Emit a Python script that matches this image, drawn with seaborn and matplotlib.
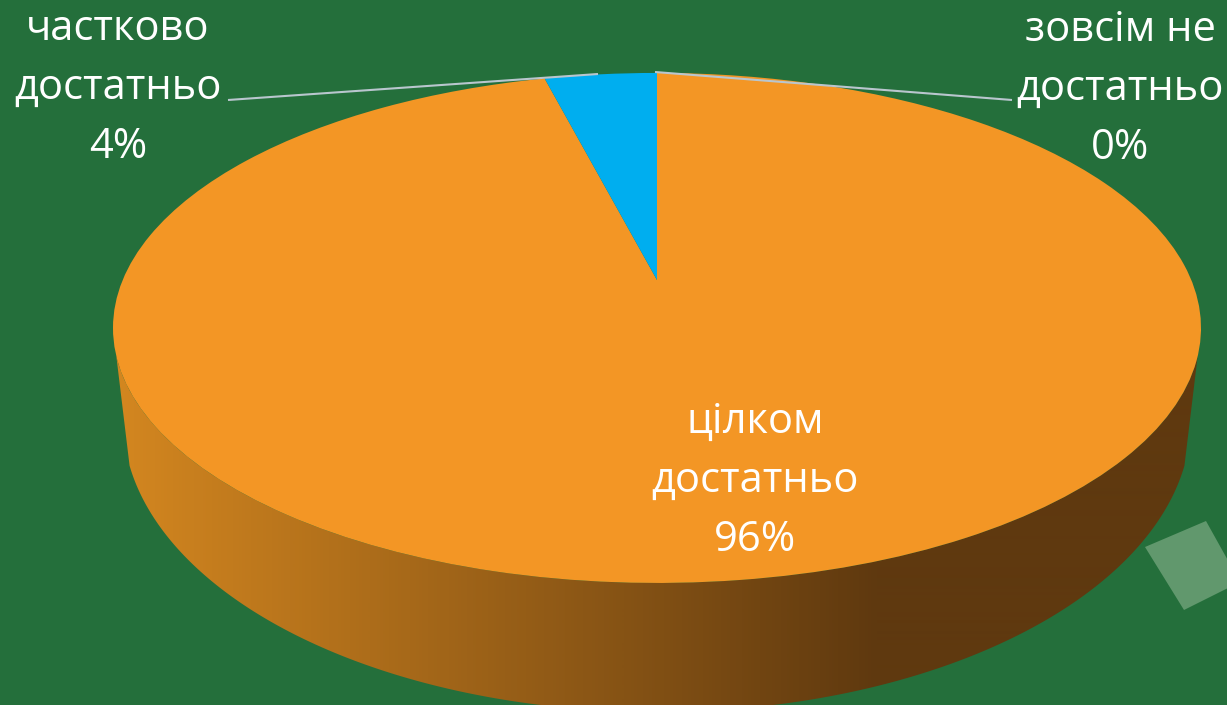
import numpy as np
import seaborn as sns
import matplotlib
matplotlib.use("Agg")
import matplotlib.pyplot as plt
from matplotlib.path import Path
from matplotlib.patches import PathPatch, Polygon
from matplotlib.transforms import Transform

# --- data ---
categories = ["цілком\nдостатньо", "частково\nдостатньо", "зовсім не\nдостатньо"]
shares = [96, 4, 0]
slice_colors = ["#F39625", "#00AEEF", "#A5A5A5"]

# --- style ---
BG = "#246F3B"
sns.set_theme(style="white")
plt.rcParams["font.family"] = ["Open Sans", "DejaVu Sans"]

# perspective of the pie disc, in pixels
CX, APEX_Y, A, B, K = 657.0, 280.0, 534.3, 246.0, 0.188


class Perspective(Transform):
    input_dims = output_dims = 2

    def transform_non_affine(self, xy):
        xy = np.asarray(xy, dtype=float)
        w = 1 + K * xy[:, 1]
        return np.column_stack([CX + A * xy[:, 0] / w, APEX_Y - B * xy[:, 1] / w])


proj = Perspective()
fig = plt.figure(figsize=(12.27, 7.05), dpi=100, facecolor=BG)
ax = fig.add_axes([0, 0, 1, 1])

wedges, _ = ax.pie(shares, colors=slice_colors, startangle=90, counterclock=False,
                   radius=1.0, wedgeprops=dict(linewidth=0), normalize=True)
for w in wedges:
    w.set_transform(proj + ax.transData)
    w.set_zorder(4)

# side wall: front half of the disc rim, then the lower edge back from right to left
th = np.linspace(0, 2 * np.pi, 721)
rim = proj.transform(np.column_stack([np.cos(th), np.sin(th)]))
left_i = np.argmin(np.abs(th - np.deg2rad(197)))
right_i = np.argmin(np.abs(th - np.deg2rad(343)))
top_arc = rim[left_i:right_i + 1]
phi = np.linspace(np.deg2rad(9), np.deg2rad(171), 300)
low_arc = np.column_stack([CX + 534 * np.cos(phi), 420 + 292 * np.sin(phi)])
wall = np.vstack([top_arc, low_arc])
clip = PathPatch(Path(np.vstack([wall, wall[0]]), closed=True), transform=ax.transData,
                 facecolor="none", edgecolor="none")
ax.add_patch(clip)

ramp = np.array(sns.blend_palette(["#D48720", "#5F390F"], n_colors=767))
cols = np.vstack([ramp, np.repeat(ramp[-1:], 1227 - 880, axis=0)])
im = ax.imshow(cols[None, :, :], extent=(113, 1227, 720, 0), aspect="auto", zorder=3,
               interpolation="bilinear")
im.set_clip_path(clip)

# decorative tile behind the pie
ax.add_patch(Polygon([(1145, 547), (1206, 521), (1240, 582), (1184, 610)], closed=True,
                     facecolor="#61986D", edgecolor="none", zorder=1))

# leader lines
ax.plot([228, 598], [100, 74], color="#B9C6CE", lw=1.5, zorder=5, solid_capstyle="butt")
ax.plot([1012, 655], [100, 72], color="#B9C6CE", lw=1.5, zorder=5, solid_capstyle="butt")

# labels
label_pos = [(755, 481), (118, 88), (1120, 89)]
for name, val, (x, y) in zip(categories, shares, label_pos):
    ax.text(x, y, f"{name}\n{val}%", color="white", fontsize=30, ha="center", va="center",
            linespacing=1.52, zorder=6)

ax.set_aspect("auto")
ax.set_xlim(0, 1227)
ax.set_ylim(705, 0)
ax.axis("off")
fig.savefig("out.png", dpi=100, facecolor=BG)
